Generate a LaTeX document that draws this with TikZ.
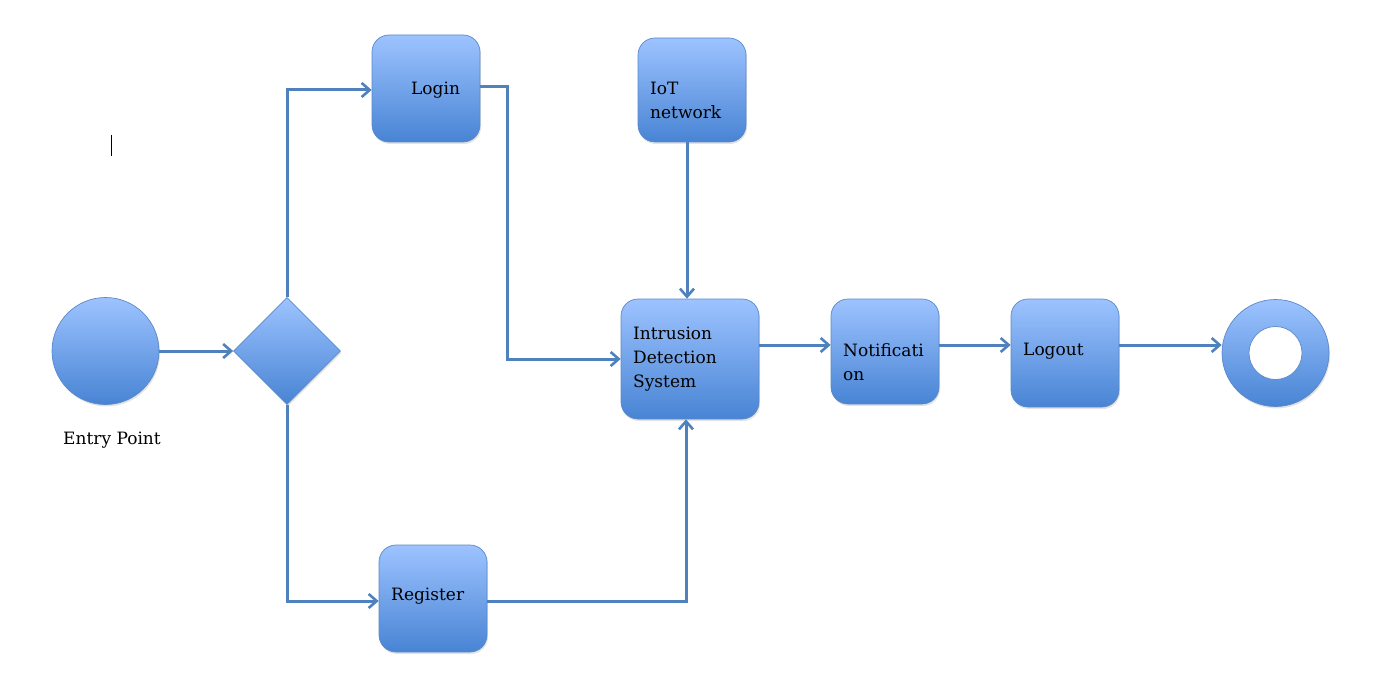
\documentclass[tikz,border=0pt]{standalone}
\usepackage{fontspec}
\setmainfont{DejaVu Serif}
\usetikzlibrary{shapes.geometric,arrows.meta,shadows}

\definecolor{boxtop}{HTML}{9DC3FF}
\definecolor{boxbot}{HTML}{4884D4}
\definecolor{boxedge}{HTML}{5A89C8}
\definecolor{linecol}{HTML}{4F81BD}

\tikzset{
  txt/.style={font=\fontsize{17}{24}\selectfont, inner sep=0pt, align=left},
  shaded/.style={draw=boxedge, line width=0.7pt, top color=boxtop, bottom color=boxbot,
    drop shadow={opacity=0.22, shadow xshift=1pt, shadow yshift=-2pt}},
  flowbox/.style={shaded, rectangle, rounded corners=17pt, inner sep=0pt},
  roundnode/.style={shaded, circle, inner sep=0pt, minimum size=107pt},
  decision/.style={shaded, diamond, inner sep=0pt, minimum width=107pt, minimum height=107pt},
  conn/.style={draw=linecol, line width=3pt,
    -{Straight Barb[length=8pt,width=14pt,line width=2.6pt]}},
}

\begin{document}
\begin{tikzpicture}[x=1pt,y=-1pt]
\useasboundingbox (0,0) rectangle (1378,695);

% start, decision and end symbols
\node[roundnode] (start) at (105.5,351) {};
\node[txt, anchor=west] (entry) at (63,440) {Entry Point};
\node[decision] (choice) at (287,351) {};
\node[roundnode] (finish) at (1275.5,353) {};
\node[circle, fill=white, draw=boxedge, line width=0.7pt, inner sep=0pt,
      minimum size=53pt] (hole) at (finish.center) {};

% process boxes
\node[flowbox, minimum width=108pt, minimum height=107pt] (login) at (426,88.5) {};
\node[flowbox, minimum width=108pt, minimum height=104pt] (iot) at (692,90) {};
\node[flowbox, minimum width=138pt, minimum height=120pt] (ids) at (690,359) {};
\node[flowbox, minimum width=108pt, minimum height=105pt] (notif) at (885,351.5) {};
\node[flowbox, minimum width=108pt, minimum height=108pt] (logout) at (1065,353) {};
\node[flowbox, minimum width=108pt, minimum height=107pt] (reg) at (433,598.5) {};

% box captions
\node[txt, anchor=west] (login-text) at (411,90) {Login};
\node[txt, anchor=west] (iot-text) at (650,100) {IoT\\network};
\node[txt, anchor=west] (ids-text) at (633,359) {Intrusion\\Detection\\System};
\node[txt, anchor=west] (notif-text) at (843,362) {Notificati\\on};
\node[txt, anchor=west] (logout-text) at (1023,351) {Logout};
\node[txt, anchor=west] (reg-text) at (391,596) {Register};

% helper coordinates for the routed connectors
\coordinate (drop) at (507,87);
\coordinate (row) at (0,345);

% connectors
\draw[conn] (start.east) -- (choice.west);
\draw[conn] (choice.north) |- ([yshift=-1.5pt]login.west);
\draw[conn] (choice.south) |- ([yshift=-2.5pt]reg.west);
\draw[conn] (login.east |- drop) -- (drop) -- (drop |- ids-text.west) -- (ids.west |- ids-text.west);
\draw[conn] (iot.south -| 687,0) -- (ids.north -| 687,0);
\draw[conn] ([yshift=-2.5pt]reg.east) -| (ids.south -| 686,0);
\draw[conn] (ids.east |- row) -- (notif.west |- row);
\draw[conn] (notif.east |- row) -- (logout.west |- row);
\draw[conn] (logout.east |- row) -- (finish.west |- row);

% text cursor mark
\draw[black, line width=1pt] (111,135) -- (111,156);
\end{tikzpicture}
\end{document}
